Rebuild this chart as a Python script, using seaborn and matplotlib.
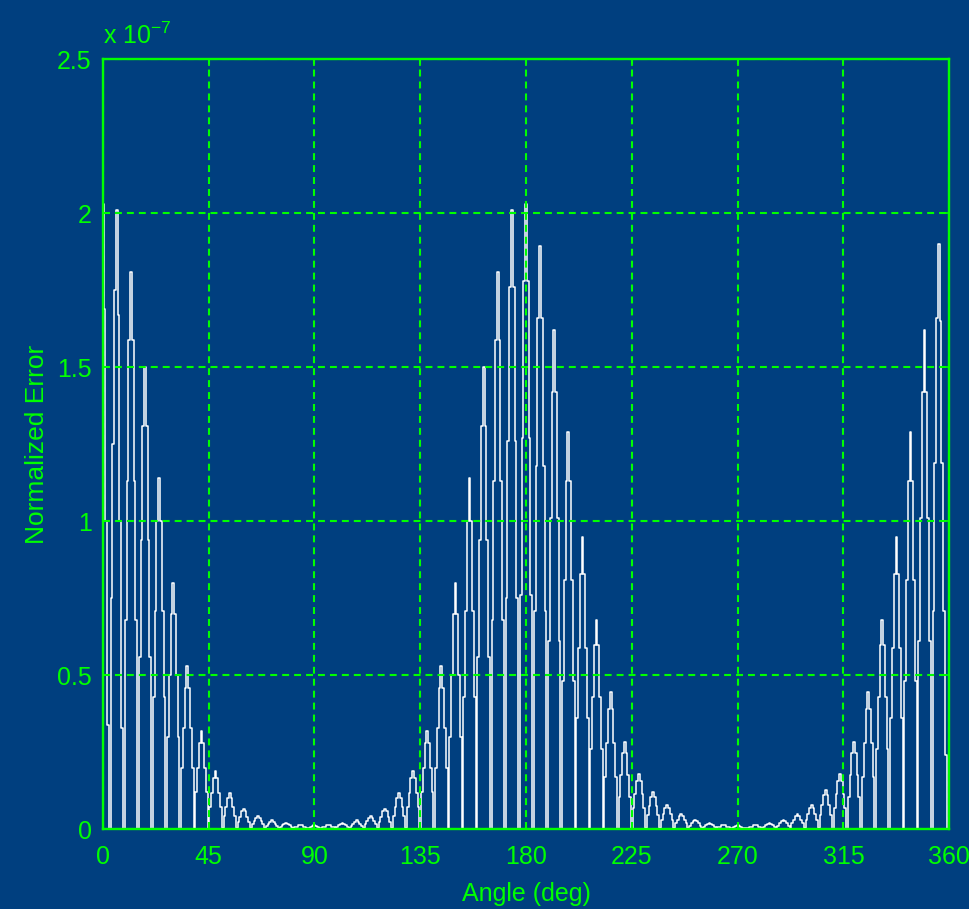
import numpy as np
import matplotlib
matplotlib.use("Agg")
import matplotlib.pyplot as plt
import seaborn as sns

# ---- data (values in units of 1e-7), sampled every 0.75 deg ----
error_lobe1 = [
    2.03, 1.69, 1.00, 0.34, 0.00, 0.75, 1.25, 1.75,
    2.01, 1.67, 1.00, 0.33, 0.00, 0.68, 1.13, 1.59,
    1.81, 1.59, 1.13, 0.68, 0.00, 0.56, 0.94, 1.31,
    1.50, 1.31, 0.94, 0.56, 0.00, 0.43, 0.71, 1.00,
    1.14, 1.00, 0.71, 0.43, 0.00, 0.30, 0.50, 0.70,
    0.80, 0.70, 0.50, 0.30, 0.00, 0.20, 0.33, 0.46,
    0.53, 0.46, 0.33, 0.20, 0.00, 0.12, 0.20, 0.28,
    0.32, 0.28, 0.20, 0.12, 0.00, 0.071, 0.119, 0.166,
    0.19, 0.166, 0.119, 0.071, 0.004, 0.044, 0.073, 0.102,
    0.117, 0.102, 0.073, 0.044, 0.004, 0.025, 0.041, 0.058,
    0.066, 0.058, 0.041, 0.025, 0.004, 0.016, 0.026, 0.037,
    0.042, 0.037, 0.026, 0.016, 0.004, 0.011, 0.018, 0.025,
    0.029, 0.025, 0.018, 0.011, 0.004, 0.008, 0.013, 0.018,
    0.020, 0.018, 0.013, 0.008, 0.004, 0.006, 0.009, 0.013,
    0.015, 0.013, 0.009, 0.006, 0.004, 0.005, 0.008, 0.011,
]
error_lobe2 = [
    0.013, 0.011, 0.008, 0.005, 0.004, 0.006, 0.009, 0.013,
    0.015, 0.013, 0.009, 0.006, 0.004, 0.008, 0.013, 0.018,
    0.020, 0.018, 0.013, 0.008, 0.004, 0.011, 0.018, 0.025,
    0.029, 0.025, 0.018, 0.011, 0.004, 0.016, 0.026, 0.037,
    0.042, 0.037, 0.026, 0.016, 0.004, 0.025, 0.041, 0.058,
    0.066, 0.058, 0.041, 0.025, 0.004, 0.044, 0.073, 0.102,
    0.117, 0.102, 0.073, 0.044, 0.004, 0.071, 0.119, 0.166,
    0.19, 0.166, 0.119, 0.071, 0.00, 0.12, 0.20, 0.28,
    0.32, 0.28, 0.20, 0.12, 0.00, 0.20, 0.33, 0.46,
    0.53, 0.46, 0.33, 0.20, 0.00, 0.30, 0.50, 0.70,
    0.80, 0.70, 0.50, 0.30, 0.00, 0.43, 0.71, 1.00,
    1.14, 1.00, 0.71, 0.43, 0.00, 0.56, 0.94, 1.31,
    1.50, 1.31, 0.94, 0.56, 0.00, 0.68, 1.13, 1.59,
    1.81, 1.59, 1.13, 0.68, 0.00, 0.75, 1.26, 1.76,
    2.01, 1.76, 1.26, 0.75, 0.00, 0.76, 1.27, 1.78,
    2.03, 1.78, 1.27, 0.76, 0.00, 0.71, 1.18, 1.66,
    1.895, 1.66, 1.18, 0.71, 0.00, 0.61, 1.01, 1.42,
    1.62, 1.42, 1.01, 0.61, 0.00, 0.48, 0.81, 1.13,
    1.29, 1.13, 0.81, 0.48, 0.00, 0.36, 0.59, 0.83,
    0.95, 0.83, 0.59, 0.36, 0.00, 0.26, 0.43, 0.60,
    0.68, 0.60, 0.43, 0.26, 0.00, 0.17, 0.28, 0.39,
    0.446, 0.39, 0.28, 0.17, 0.00, 0.106, 0.177, 0.248,
    0.283, 0.248, 0.177, 0.106, 0.00, 0.068, 0.113, 0.158,
    0.18, 0.158, 0.113, 0.068, 0.004, 0.045, 0.075, 0.105,
    0.12, 0.105, 0.075, 0.045, 0.004, 0.030, 0.049, 0.069,
    0.079, 0.069, 0.049, 0.030, 0.004, 0.019, 0.031, 0.044,
    0.05, 0.044, 0.031, 0.019, 0.004, 0.011, 0.019, 0.026,
    0.03, 0.026, 0.019, 0.011, 0.004, 0.008, 0.013, 0.018,
    0.02, 0.018, 0.013, 0.008, 0.004, 0.006, 0.009, 0.013,
    0.015, 0.013, 0.009, 0.006, 0.004, 0.005, 0.008, 0.011,
    0.013, 0.011, 0.008, 0.005, 0.004, 0.004, 0.004, 0.006, 0.009, 0.013,
]
error_lobe3 = [
    0.015, 0.013, 0.009, 0.006, 0.004, 0.008, 0.013, 0.018,
    0.02, 0.018, 0.013, 0.008, 0.004, 0.011, 0.019, 0.026,
    0.03, 0.026, 0.019, 0.011, 0.004, 0.019, 0.031, 0.044,
    0.05, 0.044, 0.031, 0.019, 0.004, 0.030, 0.049, 0.069,
    0.079, 0.069, 0.049, 0.030, 0.004, 0.047, 0.079, 0.110,
    0.126, 0.110, 0.079, 0.047, 0.00, 0.068, 0.113, 0.158,
    0.18, 0.158, 0.113, 0.068, 0.00, 0.106, 0.177, 0.248,
    0.283, 0.248, 0.177, 0.106, 0.00, 0.17, 0.28, 0.39,
    0.446, 0.39, 0.28, 0.17, 0.00, 0.26, 0.43, 0.60,
    0.68, 0.60, 0.43, 0.26, 0.00, 0.36, 0.59, 0.83,
    0.95, 0.83, 0.59, 0.36, 0.00, 0.48, 0.81, 1.13,
    1.29, 1.13, 0.81, 0.48, 0.00, 0.61, 1.01, 1.42,
    1.62, 1.42, 1.01, 0.61, 0.00, 0.71, 1.19, 1.66,
    1.90, 1.65, 1.19, 0.71, 0.24, 0.00,
]
angle_step_deg = 0.75
x_ticks = [0, 45, 90, 135, 180, 225, 270, 315, 360]
y_ticks = [0, 0.5, 1, 1.5, 2, 2.5]
y_tick_labels = ["0", "0.5", "1", "1.5", "2", "2.5"]

error = np.array(error_lobe1 + error_lobe2 + error_lobe3)
angles = np.arange(len(error)) * angle_step_deg

BG = "#003f7f"
GREEN = "#00ff00"
plt.rcParams["font.family"] = ["Liberation Sans", "DejaVu Sans"]
plt.rcParams["lines.scale_dashes"] = False

fig = plt.figure(figsize=(9.69, 9.09), dpi=100, facecolor=BG)
ax = fig.add_axes([102.7 / 969, 1 - 829.3 / 909, 846.6 / 969, 770 / 909])
ax.set_facecolor(BG)

sns.lineplot(x=angles, y=error, color="white", linewidth=1.1,
             drawstyle="steps-mid", estimator=None, ax=ax)

ax.set_xlim(0, 360)
ax.set_ylim(0, 2.5)
ax.set_xticks(x_ticks)
ax.set_xticklabels([str(t) for t in x_ticks])
ax.set_yticks(y_ticks)
ax.set_yticklabels(y_tick_labels)

ax.grid(True, color=GREEN, linestyle=(0, (5, 3.6)), linewidth=1.5)
ax.set_axisbelow(False)
for s in ax.spines.values():
    s.set_color(GREEN)
    s.set_linewidth(1.7)
ax.tick_params(axis="both", colors=GREEN, labelsize=18, direction="in",
               length=5, width=1.2, top=True, right=True)
ax.tick_params(axis="x", pad=11)
ax.tick_params(axis="y", pad=8)

ax.set_xlabel("Angle (deg)", color=GREEN, fontsize=18, labelpad=10)
ax.set_ylabel("Normalized Error", color=GREEN, fontsize=19, labelpad=6)
ax.text(0.0, 1.014, r"x 10$^{\mathregular{-7}}$", transform=ax.transAxes,
        color=GREEN, fontsize=18, ha="left", va="bottom")

fig.savefig("out.png", dpi=100, facecolor=BG)
